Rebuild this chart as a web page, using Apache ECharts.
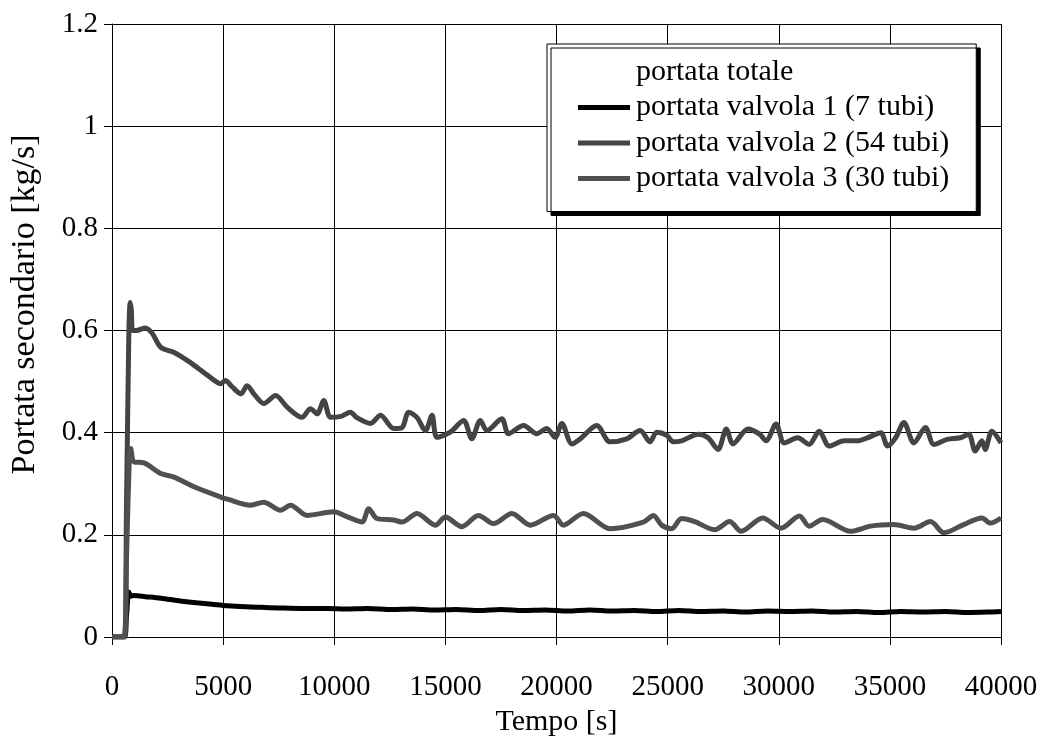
<!DOCTYPE html>
<html>
<head>
    <meta charset="utf-8">
    <title>Portata secondario</title>
    <script src="https://cdn.jsdelivr.net/npm/echarts/dist/echarts.min.js"></script>
</head>
<body style="margin:0;background:#fff;">
    <div id="main" style="width: 1045px;height:743px;"></div>
    <script>
        // tick values of the axes
        var xTicks = [0, 5000, 10000, 15000, 20000, 25000, 30000, 35000, 40000];
        var yTicks = [0, 0.2, 0.4, 0.6, 0.8, 1, 1.2];

        var seriesNames = [
            'portata totale',
            'portata valvola 1 (7 tubi)',
            'portata valvola 2 (54 tubi)',
            'portata valvola 3 (30 tubi)'
        ];

        // [tempo s, portata kg/s]
        var valvola1 = [
            [0, 0], [550, 0], [650, 0.04], [760, 0.088], [850, 0.08], [1000, 0.081], [1500, 0.079],
            [2200, 0.076], [3000, 0.071], [3800, 0.067], [4500, 0.064], [5200, 0.061], [6000, 0.059],
            [6700, 0.058], [7500, 0.057], [8500, 0.056], [9700, 0.056], [10500, 0.055], [11500, 0.056],
            [12600, 0.054], [13500, 0.055], [14500, 0.053], [15500, 0.054], [16500, 0.052], [17500, 0.054],
            [18500, 0.052], [19500, 0.053], [20500, 0.051], [21500, 0.053], [22500, 0.051], [23500, 0.052],
            [24500, 0.05], [25500, 0.052], [26500, 0.05], [27500, 0.051], [28500, 0.049], [29500, 0.051],
            [30500, 0.05], [31500, 0.051], [32500, 0.049], [33500, 0.05], [34500, 0.048], [35500, 0.05],
            [36500, 0.049], [37500, 0.05], [38500, 0.048], [39500, 0.049], [40000, 0.05]
        ];

        var valvola2 = [
            [0, 0], [550, 0], [650, 0.25], [760, 0.6], [820, 0.655], [870, 0.64], [930, 0.6], [1100, 0.6],
            [1500, 0.605], [1800, 0.595], [2200, 0.567], [2800, 0.557], [3500, 0.538], [4400, 0.509],
            [4900, 0.496], [5100, 0.502], [5400, 0.49], [5800, 0.476], [6080, 0.492], [6400, 0.475],
            [6830, 0.457], [7360, 0.473], [7880, 0.45], [8550, 0.43], [8930, 0.447], [9230, 0.437],
            [9530, 0.463], [9830, 0.43], [10300, 0.432], [10730, 0.44], [11000, 0.43], [11630, 0.418],
            [12080, 0.434], [12670, 0.408], [13050, 0.41], [13350, 0.44], [13720, 0.43], [14100, 0.404],
            [14400, 0.434], [14620, 0.391], [15220, 0.401], [15820, 0.424], [16190, 0.388], [16570, 0.424],
            [16870, 0.404], [17540, 0.427], [17840, 0.398], [18520, 0.414], [19110, 0.398], [19560, 0.408],
            [19940, 0.391], [20240, 0.418], [20690, 0.378], [21070, 0.388], [21810, 0.414], [22410, 0.382],
            [23160, 0.388], [23760, 0.404], [24210, 0.382], [24510, 0.401], [24960, 0.395], [25260, 0.382],
            [25630, 0.384], [26380, 0.397], [26820, 0.39], [27270, 0.367], [27640, 0.407], [27940, 0.378],
            [28620, 0.407], [29140, 0.397], [29430, 0.384], [29880, 0.417], [30250, 0.38], [30850, 0.39],
            [31370, 0.377], [31820, 0.403], [32270, 0.374], [32940, 0.384], [33540, 0.384], [33990, 0.39],
            [34590, 0.4], [34890, 0.374], [35260, 0.39], [35630, 0.42], [36080, 0.38], [36600, 0.41],
            [36980, 0.377], [37580, 0.387], [38170, 0.39], [38550, 0.397], [38840, 0.364], [39140, 0.384],
            [39290, 0.367], [39590, 0.403], [40000, 0.38]
        ];

        var valvola3 = [
            [0, 0], [550, 0], [650, 0.15], [780, 0.35], [840, 0.369], [990, 0.343], [1440, 0.341],
            [2190, 0.32], [2790, 0.313], [3690, 0.294], [4890, 0.274], [5190, 0.27], [6230, 0.258],
            [6830, 0.264], [7580, 0.248], [8030, 0.258], [8780, 0.238], [9980, 0.245], [10600, 0.235],
            [11250, 0.225], [11550, 0.251], [11920, 0.232], [12670, 0.229], [13050, 0.225], [13720, 0.242],
            [14550, 0.219], [15000, 0.235], [15740, 0.216], [16490, 0.238], [17170, 0.222], [17990, 0.242],
            [18820, 0.219], [19870, 0.238], [20310, 0.219], [21210, 0.242], [22410, 0.212], [23910, 0.225],
            [24360, 0.238], [24730, 0.219], [25180, 0.212], [25630, 0.232], [26220, 0.226], [27120, 0.21],
            [27790, 0.226], [28310, 0.207], [29280, 0.233], [30100, 0.213], [30930, 0.237], [31370, 0.217],
            [31970, 0.23], [33240, 0.207], [34140, 0.217], [35180, 0.22], [36080, 0.213], [36830, 0.226],
            [37430, 0.204], [38320, 0.22], [39140, 0.233], [39520, 0.223], [40000, 0.233]
        ];

        var chartDom = document.getElementById('main');
        var myChart = echarts.init(chartDom);
        var font = '"Liberation Serif", "Times New Roman", serif';

        function lineSeries(name, data, color, width) {
            return {
                name: name,
                type: 'line',
                data: data,
                symbol: 'none',
                smooth: 0.3,
                color: color,
                itemStyle: { color: color },
                lineStyle: { color: color, width: width },
                animation: false
            };
        }

        var option = {
            backgroundColor: '#fff',
            textStyle: { fontFamily: font, color: '#000' },
            grid: { left: 109, right: 44, top: 24, bottom: 106 },
            legend: {
                orient: 'vertical',
                left: 547,
                top: 44,
                data: seriesNames,
                icon: 'rect',
                backgroundColor: '#fff',
                borderColor: '#000',
                borderWidth: 1,
                shadowColor: '#000',
                shadowBlur: 0,
                shadowOffsetX: 4,
                shadowOffsetY: 4,
                padding: [13, 27, 18, 31],
                itemWidth: 52,
                itemHeight: 5,
                itemGap: 5.5,
                textStyle: { fontFamily: font, fontSize: 30, color: '#000', lineHeight: 30, padding: [0, 0, 0, 1] }
            },
            xAxis: {
                type: 'value',
                min: xTicks[0],
                max: xTicks[xTicks.length - 1],
                interval: 5000,
                name: 'Tempo [s]',
                nameLocation: 'middle',
                nameGap: 70,
                nameTextStyle: { fontFamily: font, fontSize: 30, color: '#000' },
                axisLine: { lineStyle: { color: '#000', width: 1 } },
                axisTick: { show: true, length: 8, lineStyle: { color: '#000' } },
                axisLabel: {
                    fontFamily: font, fontSize: 29, color: '#000', margin: 36,
                    formatter: function (v) { return String(v); }
                },
                splitLine: { show: true, lineStyle: { color: '#000', width: 1 } }
            },
            yAxis: {
                type: 'value',
                min: yTicks[0],
                max: yTicks[yTicks.length - 1],
                interval: 0.2,
                name: 'Portata secondario [kg/s]',
                nameLocation: 'middle',
                nameGap: 70,
                nameTextStyle: { fontFamily: font, fontSize: 34, color: '#000', padding: [0, 0, 0, 52] },
                axisLine: { show: true, lineStyle: { color: '#000', width: 1 } },
                axisTick: { show: true, length: 8, lineStyle: { color: '#000' } },
                axisLabel: {
                    fontFamily: font, fontSize: 29, color: '#000', margin: 14,
                    formatter: function (v) { return String(Math.round(v * 10) / 10); }
                },
                splitLine: { show: true, lineStyle: { color: '#000', width: 1 } }
            },
            series: [
                lineSeries(seriesNames[0], [], 'rgba(0,0,0,0)', 4),
                lineSeries(seriesNames[1], valvola1, '#000000', 5),
                lineSeries(seriesNames[2], valvola2, '#444444', 5),
                lineSeries(seriesNames[3], valvola3, '#505050', 5)
            ]
        };

        option && myChart.setOption(option);
    </script>
</body>
</html>
